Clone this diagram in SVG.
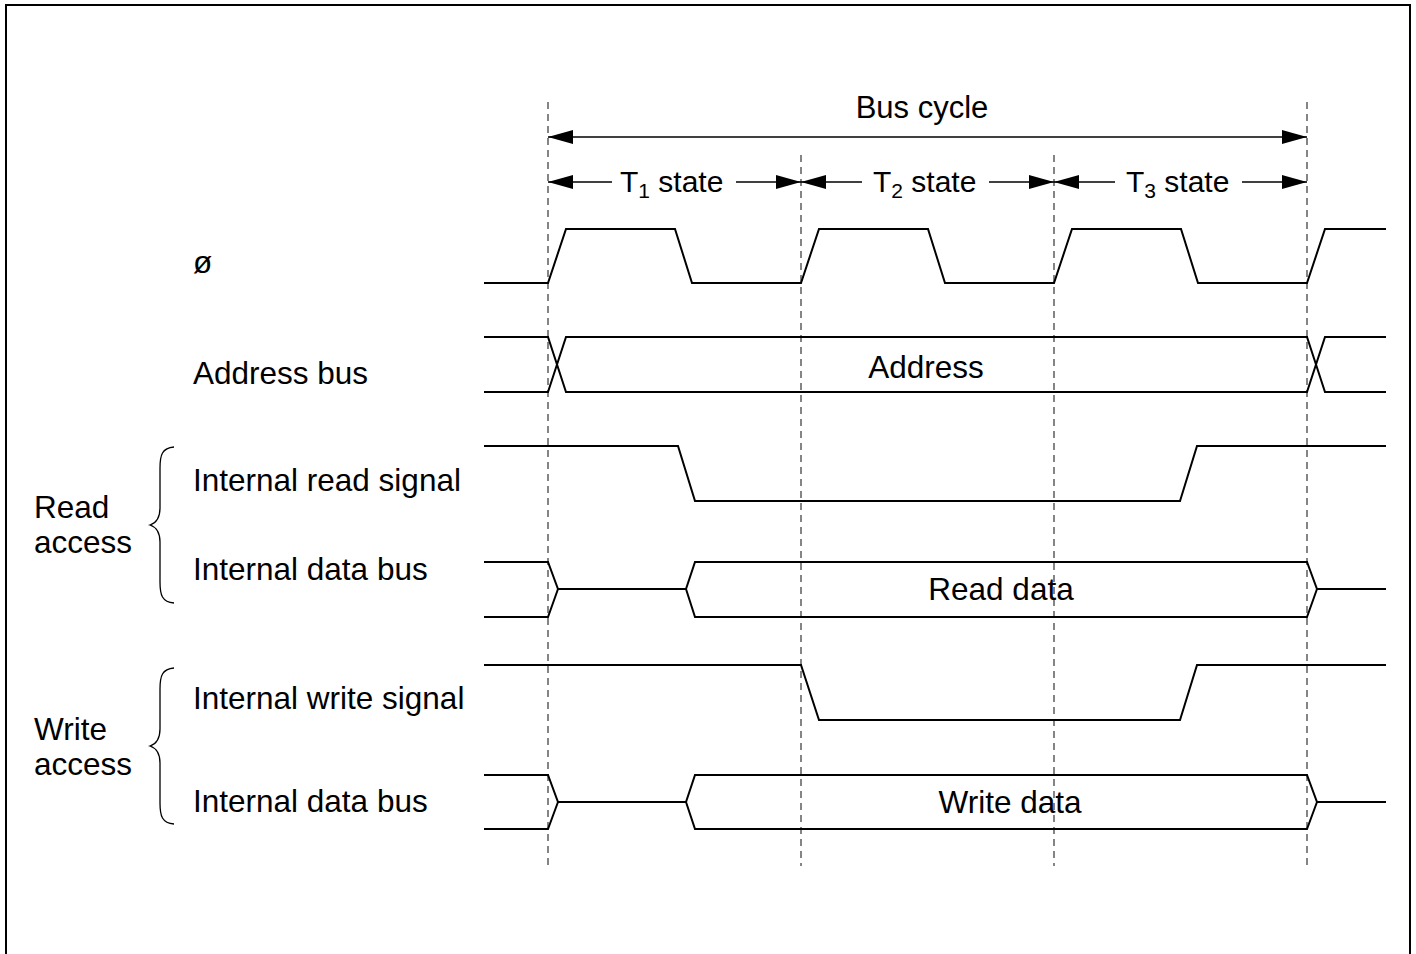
<svg xmlns="http://www.w3.org/2000/svg" width="1416" height="954" viewBox="0 0 1416 954">
<style>
  text { font-family: "Liberation Sans", Arial, sans-serif; font-size: 31.5px; fill: #000; }
  .hdr { font-size: 31px; }
  .ts { font-size: 30px; }
  .sig { fill: none; stroke: #000; stroke-width: 2; stroke-linejoin: miter; }
  .grid { stroke: #444; stroke-width: 1.3; stroke-dasharray: 7 5; fill: none; }
  .dim { stroke: #000; stroke-width: 1.3; fill: none; }
  .brace { fill: none; stroke: #000; stroke-width: 1.3; }
</style>
<defs>
  <marker id="ah" viewBox="0 0 25 14" refX="25" refY="7" markerWidth="25" markerHeight="14" markerUnits="userSpaceOnUse" orient="auto-start-reverse">
    <path d="M0,0 L25,7 L0,14 Z" fill="#000"/>
  </marker>
</defs>
<rect width="1416" height="954" fill="#fff"/>
<path d="M6,960 V5 H1410 V960" fill="none" stroke="#000" stroke-width="2"/>

<g id="gridlines">
  <line class="grid" x1="548" y1="102" x2="548" y2="866"/>
  <line class="grid" x1="801" y1="155" x2="801" y2="866"/>
  <line class="grid" x1="1054" y1="155" x2="1054" y2="866"/>
  <line class="grid" x1="1307" y1="102" x2="1307" y2="866"/>
</g>

<g id="connectors">
  <line class="dim" x1="548" y1="137" x2="1307" y2="137" marker-start="url(#ah)" marker-end="url(#ah)"/>
  <line class="dim" x1="548" y1="182" x2="612" y2="182" marker-start="url(#ah)"/>
  <line class="dim" x1="736" y1="182" x2="801" y2="182" marker-end="url(#ah)"/>
  <line class="dim" x1="801" y1="182" x2="862" y2="182" marker-start="url(#ah)"/>
  <line class="dim" x1="989" y1="182" x2="1054" y2="182" marker-end="url(#ah)"/>
  <line class="dim" x1="1054" y1="182" x2="1115" y2="182" marker-start="url(#ah)"/>
  <line class="dim" x1="1242" y1="182" x2="1307" y2="182" marker-end="url(#ah)"/>
</g>

<g id="header">
  <text class="hdr" x="922" y="118" text-anchor="middle">Bus cycle</text>
  <text class="ts" x="620" y="192">T<tspan font-size="21" dy="6">1</tspan><tspan dy="-6"> state</tspan></text>
  <text class="ts" x="873" y="192">T<tspan font-size="21" dy="6">2</tspan><tspan dy="-6"> state</tspan></text>
  <text class="ts" x="1126" y="192">T<tspan font-size="21" dy="6">3</tspan><tspan dy="-6"> state</tspan></text>
</g>

<g id="clock">
  <text x="193" y="273">ø</text>
  <path class="sig" d="M484,283 H548 L566,229 H675 L692,283 H801 L819,229 H928 L945,283 H1054 L1072,229 H1181 L1198,283 H1307 L1325,229 H1386"/>
</g>

<g id="address-bus">
  <text x="193" y="384">Address bus</text>
  <path class="sig" d="M484,337 H548 L566,392 H1307 L1325,337 H1386"/>
  <path class="sig" d="M484,392 H548 L566,337 H1307 L1325,392 H1386"/>
  <text x="926" y="378" text-anchor="middle">Address</text>
</g>

<g id="read-access">
  <text x="34" y="518">Read</text>
  <text x="34" y="553">access</text>
  <path class="brace" d="M174,447 C162,448 160,455 160,468 V508 C160,519 156,523 150,525 C156,527 160,531 160,542 V582 C160,595 162,602 174,603"/>
</g>

<g id="internal-read-signal">
  <text x="193" y="491">Internal read signal</text>
  <path class="sig" d="M484,446 H678 L695,501 H1180 L1197,446 H1386"/>
</g>

<g id="internal-data-bus-read">
  <text x="193" y="580">Internal data bus</text>
  <path class="sig" d="M484,562 H548 L558,589 H686 L695,562 H1307 L1317,589 H1386"/>
  <path class="sig" d="M484,617 H548 L558,589 M686,589 L695,617 H1307 L1317,589"/>
  <text x="1001" y="600" text-anchor="middle">Read data</text>
</g>

<g id="write-access">
  <text x="34" y="740">Write</text>
  <text x="34" y="775">access</text>
  <path class="brace" d="M174,668 C162,669 160,676 160,689 V729 C160,740 156,744 150,746 C156,748 160,752 160,763 V803 C160,816 162,823 174,824"/>
</g>

<g id="internal-write-signal">
  <text x="193" y="709">Internal write signal</text>
  <path class="sig" d="M484,665 H801 L819,720 H1180 L1197,665 H1386"/>
</g>

<g id="internal-data-bus-write">
  <text x="193" y="812">Internal data bus</text>
  <path class="sig" d="M484,775 H548 L558,802 H686 L695,775 H1307 L1317,802 H1386"/>
  <path class="sig" d="M484,829 H548 L558,802 M686,802 L695,829 H1307 L1317,802"/>
  <text x="1010" y="813" text-anchor="middle">Write data</text>
</g>
</svg>
